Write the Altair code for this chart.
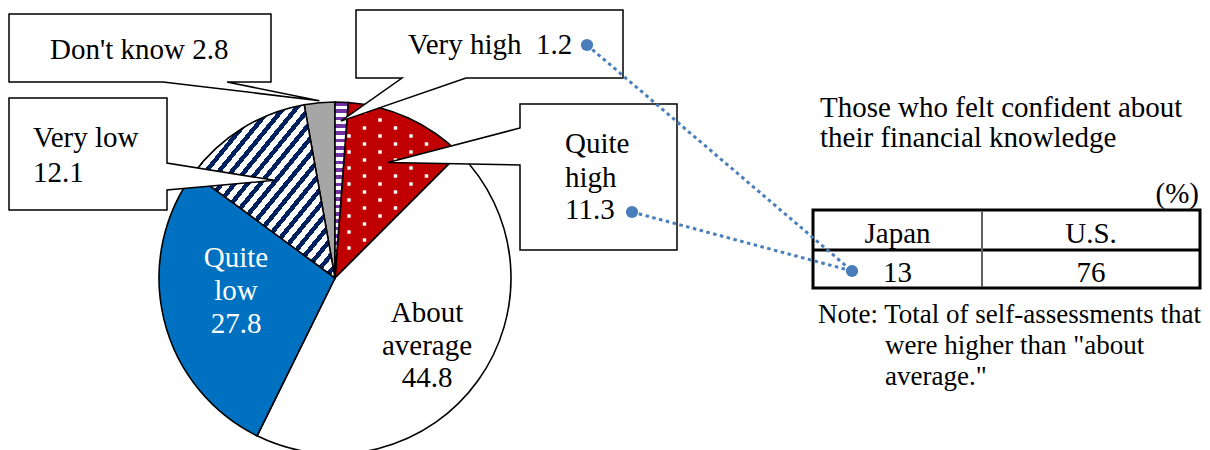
import math
import altair as alt
import pandas as pd

# ---------------- data ----------------
categories = ["Very high", "Quite high", "About average", "Quite low", "Very low", "Don't know"]
values = [1.2, 11.3, 44.8, 27.8, 12.1, 2.8]
table_columns = ["Japan", "U.S."]
table_values = [13, 76]
title_lines = ["Those who felt confident about", "their financial knowledge"]
unit_label = "(%)"
note_lines = ["Note: Total of self-assessments that", "were higher than \"about", "average.\""]

# ---------------- layout / style ----------------
W, H = 1194, 442
OFF = 8
CX, CY, R = 335, 278, 176
FONT = "Liberation Serif"
FS = 29
RED, BLUE, GRAY, NAVY, PURPLE, WHITE = "#c00000", "#0070c0", "#a6a6a6", "#002060", "#7030a0", "#ffffff"
DOTC = "#4a7ebb"

total = sum(values)
starts, ends, acc = [], [], 0.0
for v in values:
    starts.append(acc)
    acc += v
    ends.append(acc)
pie = pd.DataFrame({"cat": categories, "value": values, "start": starts, "end": ends})

def ang(i):
    return (starts[i] + ends[i]) / 2 / total * 2 * math.pi

def tip(i, r):
    a = ang(i)
    return [CX + r * math.sin(a), CY - r * math.cos(a)]

xs = alt.Scale(domain=[OFF, OFF + W], range=[0, W], nice=False, zero=False)
ys = alt.Scale(domain=[OFF, OFF + H], range=[0, H], nice=False, zero=False)
theta_scale = alt.Scale(domain=[0, total], range=[0, 2 * math.pi])


def arc_base(df, **mark):
    return alt.Chart(df).mark_arc(outerRadius=R, stroke="black", strokeWidth=1.6, **mark).encode(
        theta=alt.Theta("start:Q", scale=theta_scale, stack=None),
        theta2="end:Q",
        x=alt.value(CX - OFF),
        y=alt.value(CY - OFF),
    )


solid_cats = ["Quite high", "About average", "Quite low", "Don't know"]
solid_cols = [RED, WHITE, BLUE, GRAY]
solid = arc_base(pie[pie.cat.isin(solid_cats)]).encode(
    fill=alt.Fill("cat:N", scale=alt.Scale(domain=solid_cats, range=solid_cols), legend=None)
)


def stripes(c1, c2, n, frac):
    stops = []
    for i in range(n):
        a, b, c = i / n, (i + frac) / n, (i + 1) / n
        stops += [
            alt.GradientStop(offset=a, color=c1),
            alt.GradientStop(offset=b, color=c1),
            alt.GradientStop(offset=b, color=c2),
            alt.GradientStop(offset=min(c, 1.0), color=c2),
        ]
    return stops


very_low_fill = alt.LinearGradient(gradient="linear", stops=stripes(NAVY, WHITE, 22, 0.45), x1=0, y1=0, x2=1, y2=1)
very_high_fill = alt.LinearGradient(gradient="linear", stops=stripes(PURPLE, WHITE, 24, 0.5), x1=0, y1=0, x2=0, y2=1)
vlow = arc_base(pie[pie.cat == "Very low"], fill=very_low_fill)
vhigh = arc_base(pie[pie.cat == "Very high"], fill=very_high_fill)

# white dot texture for the "Quite high" slice
a0 = starts[1] / total * 2 * math.pi
a1 = ends[1] / total * 2 * math.pi
rows, cols = 24, 8
dots = (
    alt.Chart(alt.sequence(0, rows * cols, as_="i"))
    .transform_calculate(row=f"floor(datum.i / {cols})", col=f"datum.i % {cols}")
    .transform_calculate(px=f"318 + datum.col * 31 + (datum.row % 2) * 15.5", py="104 + datum.row * 8")
    .transform_calculate(dx=f"datum.px - {CX}", dy=f"datum.py - {CY}")
    .transform_calculate(rr="sqrt(datum.dx * datum.dx + datum.dy * datum.dy)", an="atan2(datum.dx, -datum.dy)")
    .transform_filter(
        f"datum.rr < {R - 4} && datum.an > {a0} && datum.an < {a1} && "
        f"datum.rr * sin(datum.an - {a0}) > 3 && datum.rr * sin({a1} - datum.an) > 3"
    )
    .mark_square(size=12, color="white", filled=True, opacity=1, strokeWidth=0)
    .encode(x=alt.X("px:Q", scale=xs, axis=None), y=alt.Y("py:Q", scale=ys, axis=None))
)

# callout shapes (box + pointer)
t_dk = tip(5, 178)
t_vh = tip(0, 157)
t_vl = tip(4, 115)
t_qh = tip(1, 127)
callout_polys = [
    [[9, 14], [271, 14], [271, 82], [227, 82], t_dk, [163, 82], [9, 82]],
    [[356, 10], [623, 10], [623, 78], [466, 78], t_vh, [402, 78], [356, 78]],
    [[9, 98], [167, 98], [167, 163], t_vl, [167, 190], [167, 210], [9, 210]],
    [[520, 104], [677, 104], [677, 250], [520, 250], [520, 165], t_qh, [520, 128]],
]
features = [
    {"type": "Feature", "properties": {}, "geometry": {"type": "Polygon", "coordinates": [p + [p[0]]]}}
    for p in callout_polys
]
callouts = (
    alt.Chart(alt.Data(values=features))
    .mark_geoshape(fill="white", stroke="black", strokeWidth=1.5)
    .project(type="identity", scale=1, translate=[-OFF, -OFF])
)

# dotted connectors
JP = [852, 271]
links = pd.DataFrame({"x": [587, 632], "y": [45, 212], "x2": [JP[0], JP[0]], "y2": [JP[1], JP[1]]})
link_lines = alt.Chart(links).mark_rule(strokeDash=[3.5, 3.5], strokeWidth=3, color=DOTC).encode(
    x=alt.X("x:Q", scale=xs, axis=None), y=alt.Y("y:Q", scale=ys, axis=None), x2="x2:Q", y2="y2:Q"
)
ends_df = pd.DataFrame({"x": [587, 632, JP[0]], "y": [45, 212, JP[1]]})
link_dots = alt.Chart(ends_df).mark_circle(size=150, color=DOTC, opacity=1).encode(
    x=alt.X("x:Q", scale=xs, axis=None), y=alt.Y("y:Q", scale=ys, axis=None)
)

# table
TL, TR, TT, TM, TB, TC = 813, 1200, 210, 250, 288, 982
tbox = alt.Chart(pd.DataFrame({"x": [TL], "x2": [TR], "y": [TT], "y2": [TB]})).mark_rect(
    color="white", fillOpacity=0, stroke="black", strokeWidth=3
).encode(x=alt.X("x:Q", scale=xs, axis=None), x2="x2:Q", y=alt.Y("y:Q", scale=ys, axis=None), y2="y2:Q")
hline = alt.Chart(pd.DataFrame({"x": [TL], "x2": [TR], "y": [TM]})).mark_rule(color="black", strokeWidth=3).encode(
    x=alt.X("x:Q", scale=xs, axis=None), x2="x2:Q", y=alt.Y("y:Q", scale=ys, axis=None)
)
vline = alt.Chart(pd.DataFrame({"x": [TC], "y": [TT + 1], "y2": [TB - 1]})).mark_rule(color="#606060", strokeWidth=2).encode(
    x=alt.X("x:Q", scale=xs, axis=None), y=alt.Y("y:Q", scale=ys, axis=None), y2="y2:Q"
)

# texts
def fmt(v):
    return f"{v:.1f}"

def text_layer(rows_, align="left", color="black", size=FS):
    df = pd.DataFrame(rows_, columns=["t", "x", "y"])
    return alt.Chart(df).mark_text(
        align=align, baseline="alphabetic", font=FONT, fontSize=size, color=color
    ).encode(x=alt.X("x:Q", scale=xs, axis=None), y=alt.Y("y:Q", scale=ys, axis=None), text="t:N")

qh_words = categories[1].split(" ")
ql_words = categories[3].split(" ")
aa_words = categories[2].split(" ")
left_texts = text_layer([
    (f"{categories[5]} {fmt(values[5])}", 50, 59),
    (f"{categories[0]}\u00a0 {fmt(values[0])}", 408, 54),
    (categories[4], 33, 147),
    (fmt(values[4]), 33, 182),
    (qh_words[0], 565, 153),
    (qh_words[1], 565, 187),
    (fmt(values[1]), 565, 219),
    (title_lines[0], 820, 117),
    (title_lines[1], 820, 147),
])
center_texts = text_layer([
    (aa_words[0], 427, 322),
    (aa_words[1], 427, 355),
    (fmt(values[2]), 427, 387),
    (table_columns[0], (TL + TC) / 2, 243),
    (table_columns[1], (TC + TR) / 2, 243),
    (str(table_values[0]), (TL + TC) / 2, 282),
    (str(table_values[1]), (TC + TR) / 2, 282),
], align="center")
white_texts = text_layer([
    (ql_words[0], 236, 267),
    (ql_words[1], 236, 300),
    (fmt(values[3]), 236, 333),
], align="center", color="white")
unit_text = text_layer([(unit_label, 1199, 203)], align="right")
note_texts = text_layer([
    (note_lines[0], 818, 323),
    (note_lines[1], 885, 354),
    (note_lines[2], 885, 385),
], size=27)

chart = alt.layer(
    solid, vlow, vhigh, dots, callouts, tbox, hline, vline,
    link_lines, link_dots,
    left_texts, center_texts, white_texts, unit_text, note_texts,
).properties(
    width=W, height=H, autosize=alt.AutoSizeParams(type="none"), padding=0, background="white"
).configure_view(strokeWidth=0)

chart.save("out.html", embed_options={"renderer": "svg", "actions": False})
